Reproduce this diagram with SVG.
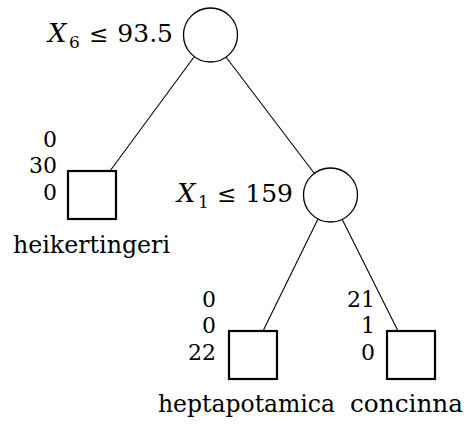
<svg xmlns="http://www.w3.org/2000/svg" width="471" height="425" viewBox="0 0 471 425">
<style>
text{font-family:"DejaVu Serif",serif;font-size:24px;fill:#000}
.it{font-style:italic;font-size:26px}
.sub{font-size:17px}
.rel{font-size:23px}
.lab{text-anchor:end;font-size:25px}
.num{text-anchor:end;font-size:22px}
.dec{fill:#fff;stroke:#000;stroke-width:1.3}
.leaf{fill:#fff;stroke:#000;stroke-width:2.2}
.edge{stroke:#000;stroke-width:1.1;fill:none}
</style>
<g id="connectors">
<line class="edge" x1="194" y1="57" x2="110" y2="171"/>
<line class="edge" x1="226" y1="57" x2="314" y2="173"/>
<line class="edge" x1="318" y1="219" x2="263" y2="331"/>
<line class="edge" x1="342" y1="219" x2="398" y2="331"/>
</g>
<g id="node-root">
<circle class="dec" cx="210.5" cy="35" r="27"/>
<text x="48" y="42" class="it">X</text>
<text x="69" y="48" class="sub">6</text>
<text x="89" y="42" class="rel">≤</text>
<text x="173" y="42" class="lab">93.5</text>
</g>
<g id="node-x1">
<circle class="dec" cx="330.5" cy="195" r="27"/>
<text x="177" y="202" class="it">X</text>
<text x="198" y="208" class="sub">1</text>
<text x="217" y="202" class="rel">≤</text>
<text x="293" y="202" class="lab">159</text>
</g>
<g id="leaf-heikertingeri">
<rect class="leaf" x="68" y="171" width="48" height="48"/>
<text x="57" y="147" class="num">0</text>
<text x="57" y="173" class="num">30</text>
<text x="57" y="200" class="num">0</text>
<text x="13" y="253" textLength="157" lengthAdjust="spacingAndGlyphs">heikertingeri</text>
</g>
<g id="leaf-heptapotamica">
<rect class="leaf" x="229" y="331" width="48" height="48"/>
<text x="216" y="307" class="num">0</text>
<text x="216" y="333" class="num">0</text>
<text x="216" y="360" class="num">22</text>
<text x="158" y="412" textLength="177" lengthAdjust="spacingAndGlyphs">heptapotamica</text>
</g>
<g id="leaf-concinna">
<rect class="leaf" x="387" y="331" width="48" height="48"/>
<text x="375" y="307" class="num">21</text>
<text x="375" y="333" class="num">1</text>
<text x="375" y="360" class="num">0</text>
<text x="350" y="412" textLength="113" lengthAdjust="spacingAndGlyphs">concinna</text>
</g>
</svg>
